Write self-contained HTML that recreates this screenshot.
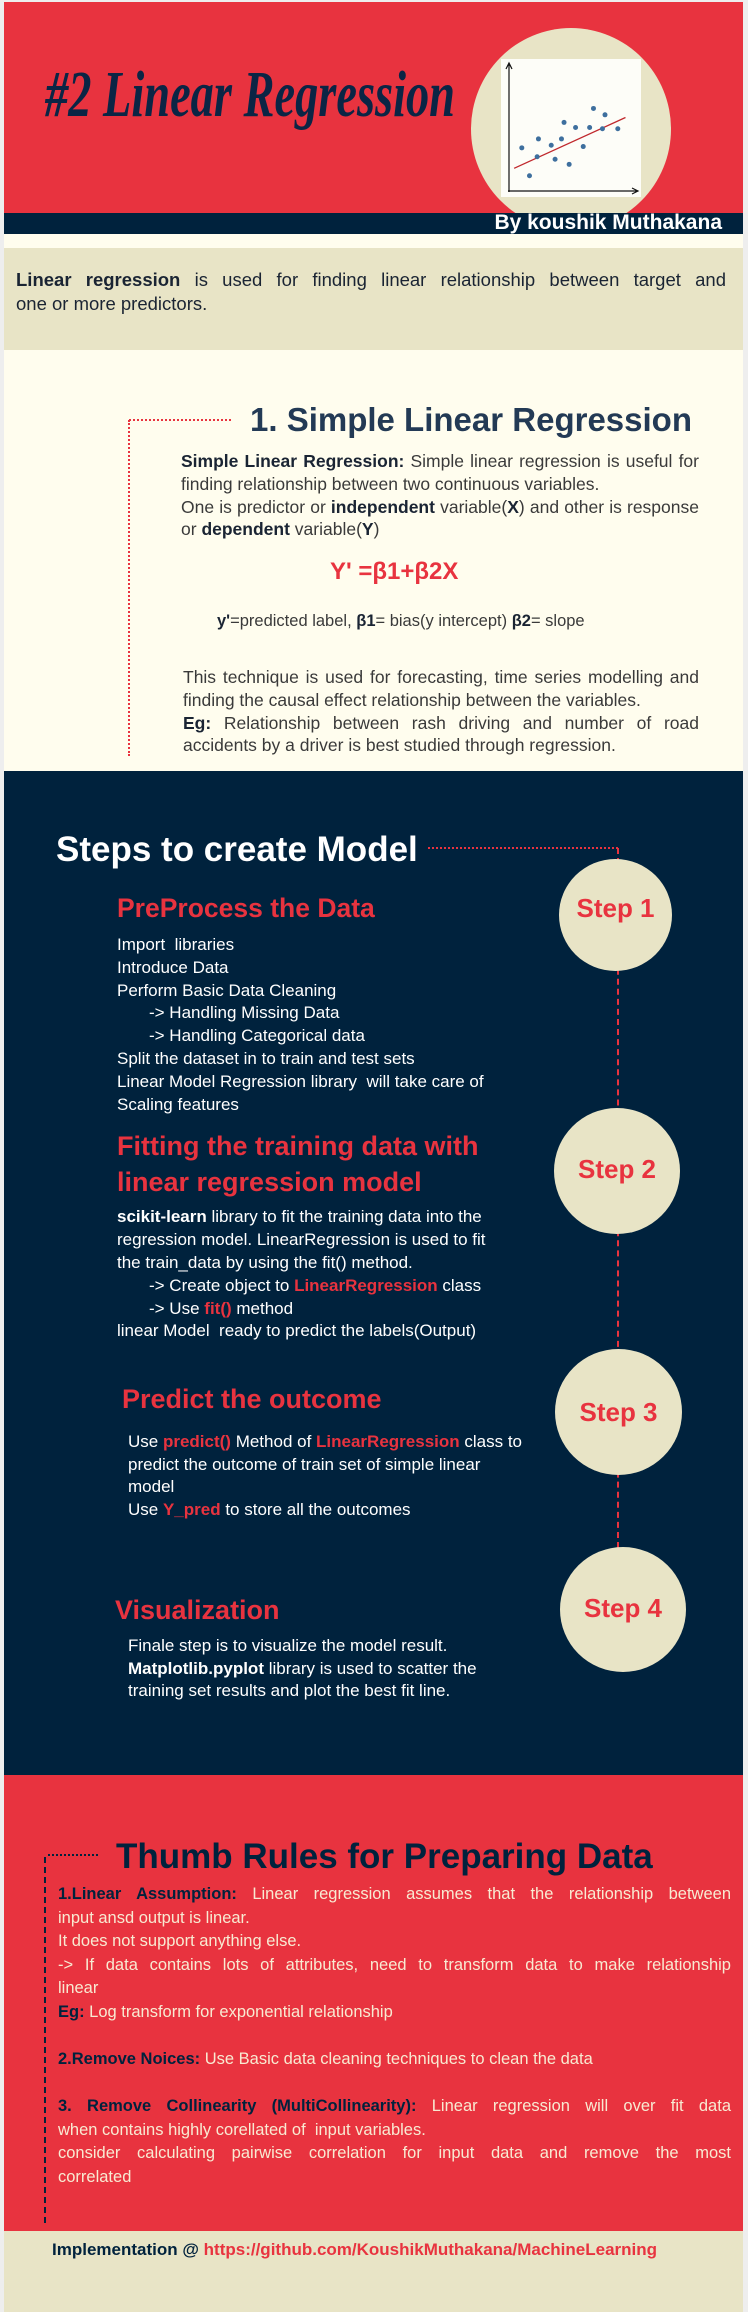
<!DOCTYPE html>
<html><head><meta charset="utf-8">
<style>
*{margin:0;padding:0;box-sizing:border-box}
body{width:748px;height:2312px;position:relative;background:#eeeeee;font-family:"Liberation Sans",sans-serif;overflow:hidden}
.a{position:absolute}
.l{position:absolute;white-space:pre;line-height:1.2}
.j{text-align:justify;text-align-last:justify;white-space:normal}
.red{color:#e8333f}
.navy{color:#00223d}
.dh{border-top:2px dotted #e8333f;height:0}
.dv{border-left:2px dashed #e8333f;width:0}
</style></head>
<body>
<!-- Header -->
<div class="a" style="left:4px;top:2px;width:739px;height:211px;background:#e8333f"></div>
<div class="a" style="left:471px;top:28px;width:200px;height:202px;border-radius:50%;background:#e8e4c6"></div>
<div class="a" style="left:4px;top:213px;width:739px;height:21px;background:#00223d"></div>
<div class="l" style="left:470px;top:210px;width:252px;font-size:21px;font-weight:bold;color:#fff;text-align:right">By koushik Muthakana</div>
<svg class="a" style="left:0;top:40px" width="480" height="110">
<text x="45" y="76" textLength="410" lengthAdjust="spacingAndGlyphs" font-family="Liberation Serif, serif" font-style="italic" font-weight="bold" font-size="66" fill="#0b2545">#2 Linear Regression</text>
</svg>
<svg class="a" id="mini" style="left:0;top:0" width="748" height="240"></svg>

<!-- Intro -->
<div class="a" style="left:4px;top:234px;width:739px;height:14px;background:#fffdee"></div>
<div class="a" style="left:4px;top:248px;width:739px;height:102px;background:#e8e4c6"></div>
<div class="l j navy" style="left:16px;top:269px;width:710px;font-size:18.5px;color:#1a2433"><b>Linear regression</b> is used for finding linear relationship between target and</div>
<div class="l navy" style="left:16px;top:293px;font-size:18.5px;color:#1a2433">one or more predictors.</div>

<!-- Section 1 -->
<div class="a" style="left:4px;top:350px;width:739px;height:421px;background:#fffdee"></div>
<div class="a dh" style="left:129px;top:419px;width:102px"></div>
<div class="a dv" style="left:128px;top:420px;height:336px;border-left-style:dotted"></div>
<div class="l" style="left:250px;top:400px;font-size:33px;font-weight:bold;color:#233a55">1. Simple Linear Regression</div>
<div style="color:#3a3a3a;font-size:17.5px">
<div class="l j" style="left:181px;top:451px;width:518px"><b style="color:#1a2433">Simple Linear Regression:</b> Simple linear regression is useful for</div>
<div class="l" style="left:181px;top:474px">finding relationship between two continuous variables.</div>
<div class="l j" style="left:181px;top:497px;width:518px">One is predictor or <b style="color:#1a2433">independent</b> variable(<b style="color:#1a2433">X</b>) and other is response</div>
<div class="l" style="left:181px;top:519px">or <b style="color:#1a2433">dependent</b> variable(<b style="color:#1a2433">Y</b>)</div>
<div class="l" style="left:330px;top:558px;font-size:24px;font-weight:bold;color:#e8333f">Y' =β1+β2X</div>
<div class="l" style="left:217px;top:612px;font-size:16.5px"><b style="color:#1a2433">y'</b>=predicted label, <b style="color:#1a2433">β1</b>= bias(y intercept) <b style="color:#1a2433">β2</b>= slope</div>
<div class="l j" style="left:183px;top:667px;width:516px">This technique is used for forecasting, time series modelling and</div>
<div class="l" style="left:183px;top:690px">finding the causal effect relationship between the variables.</div>
<div class="l j" style="left:183px;top:713px;width:516px"><b style="color:#1a2433">Eg:</b> Relationship between rash driving and number of road</div>
<div class="l" style="left:183px;top:735px">accidents by a driver is best studied through regression.</div>
</div>

<!-- Steps -->
<div class="a" style="left:4px;top:771px;width:739px;height:1004px;background:#00223d"></div>
<div class="l" style="left:56px;top:829px;font-size:35px;font-weight:bold;color:#fff">Steps to create Model</div>
<div class="a dh" style="left:428px;top:847px;width:190px"></div>
<div class="a dv" style="left:617px;top:848px;height:700px"></div>

<div class="a" style="left:559px;top:859px;width:113px;height:112px;border-radius:50%;background:#e8e4c6"></div>
<div class="l" style="left:559px;top:893px;width:113px;text-align:center;font-size:26px;font-weight:bold;color:#e8333f">Step 1</div>
<div class="a" style="left:554px;top:1108px;width:126px;height:126px;border-radius:50%;background:#e8e4c6"></div>
<div class="l" style="left:554px;top:1154px;width:126px;text-align:center;font-size:26px;font-weight:bold;color:#e8333f">Step 2</div>
<div class="a" style="left:555px;top:1349px;width:127px;height:126px;border-radius:50%;background:#e8e4c6"></div>
<div class="l" style="left:555px;top:1397px;width:127px;text-align:center;font-size:26px;font-weight:bold;color:#e8333f">Step 3</div>
<div class="a" style="left:560px;top:1547px;width:126px;height:125px;border-radius:50%;background:#e8e4c6"></div>
<div class="l" style="left:560px;top:1593px;width:126px;text-align:center;font-size:26px;font-weight:bold;color:#e8333f">Step 4</div>

<div style="color:#fff;font-size:17px">
<div class="l red" style="left:117px;top:893px;font-size:26.5px;font-weight:bold">PreProcess the Data</div>
<div class="l" style="left:117px;top:935px">Import  libraries</div>
<div class="l" style="left:117px;top:958px">Introduce Data</div>
<div class="l" style="left:117px;top:981px">Perform Basic Data Cleaning</div>
<div class="l" style="left:149px;top:1003px">-&gt; Handling Missing Data</div>
<div class="l" style="left:149px;top:1026px">-&gt; Handling Categorical data</div>
<div class="l" style="left:117px;top:1049px">Split the dataset in to train and test sets</div>
<div class="l" style="left:117px;top:1072px">Linear Model Regression library  will take care of</div>
<div class="l" style="left:117px;top:1095px">Scaling features</div>

<div class="l red" style="left:117px;top:1130px;font-size:27px;font-weight:bold">Fitting the training data with</div>
<div class="l red" style="left:117px;top:1166px;font-size:27px;font-weight:bold">linear regression model</div>
<div class="l" style="left:117px;top:1207px"><b>scikit-learn</b> library to fit the training data into the</div>
<div class="l" style="left:117px;top:1230px">regression model. LinearRegression is used to fit</div>
<div class="l" style="left:117px;top:1253px">the train_data by using the fit() method.</div>
<div class="l" style="left:149px;top:1276px">-&gt; Create object to <b class="red">LinearRegression</b> class</div>
<div class="l" style="left:149px;top:1299px">-&gt; Use <b class="red">fit()</b> method</div>
<div class="l" style="left:117px;top:1321px">linear Model  ready to predict the labels(Output)</div>

<div class="l red" style="left:122px;top:1383px;font-size:27px;font-weight:bold">Predict the outcome</div>
<div class="l" style="left:128px;top:1432px">Use <b class="red">predict()</b> Method of <b class="red">LinearRegression</b> class to</div>
<div class="l" style="left:128px;top:1455px">predict the outcome of train set of simple linear</div>
<div class="l" style="left:128px;top:1477px">model</div>
<div class="l" style="left:128px;top:1500px">Use <b class="red">Y_pred</b> to store all the outcomes</div>

<div class="l red" style="left:115px;top:1594px;font-size:27px;font-weight:bold">Visualization</div>
<div class="l" style="left:128px;top:1636px">Finale step is to visualize the model result.</div>
<div class="l" style="left:128px;top:1659px"><b>Matplotlib.pyplot</b> library is used to scatter the</div>
<div class="l" style="left:128px;top:1681px">training set results and plot the best fit line.</div>
</div>

<!-- Thumb rules -->
<div class="a" style="left:4px;top:1775px;width:739px;height:456px;background:#e8333f"></div>
<div class="a" style="left:48px;top:1854px;width:50px;border-top:2px dotted #00223d"></div>
<div class="a" style="left:44px;top:1857px;height:366px;border-left:2px dashed #00223d"></div>
<div class="l navy" style="left:116px;top:1836px;font-size:35px;font-weight:bold">Thumb Rules for Preparing Data</div>
<div style="color:#f8ead2;font-size:16.5px">
<div class="l j" style="left:58px;top:1885px;width:673px"><b class="navy">1.Linear Assumption:</b> Linear regression assumes that the relationship between</div>
<div class="l" style="left:58px;top:1909px">input ansd output is linear.</div>
<div class="l" style="left:58px;top:1932px">It does not support anything else.</div>
<div class="l j" style="left:58px;top:1956px;width:673px">-&gt; If data contains lots of attributes, need to transform data to make relationship</div>
<div class="l" style="left:58px;top:1979px">linear</div>
<div class="l" style="left:58px;top:2003px"><b class="navy">Eg:</b> Log transform for exponential relationship</div>
<div class="l" style="left:58px;top:2050px"><b class="navy">2.Remove Noices:</b> Use Basic data cleaning techniques to clean the data</div>
<div class="l j" style="left:58px;top:2097px;width:673px"><b class="navy">3. Remove Collinearity (MultiCollinearity):</b> Linear regression will over fit data</div>
<div class="l" style="left:58px;top:2121px">when contains highly corellated of  input variables.</div>
<div class="l j" style="left:58px;top:2144px;width:673px">consider calculating pairwise correlation for input data and remove the most</div>
<div class="l" style="left:58px;top:2168px">correlated</div>
</div>

<!-- Footer -->
<div class="a" style="left:4px;top:2231px;width:739px;height:81px;background:#e8e4c6"></div>
<div class="l" style="left:52px;top:2240px;font-size:17px;font-weight:bold;color:#00223d">Implementation @ <span class="red">https://github.com/KoushikMuthakana/MachineLearning</span></div>

<script>
const pointsX = [1.0,1.6,2.2,2.3,3.3,3.6,4.1,4.3,4.7,5.2,5.8,6.3,6.6,7.3,7.5,8.5];
const pointsY = [3.4,1.2,2.7,4.1,3.6,2.5,4.1,5.4,2.1,5.0,3.5,5.0,6.5,4.9,6.0,4.9];
const fitIntercept = 1.6;
const fitSlope = 0.46;
const fitRange = [0.4, 9.1];
(function(){
  const svg = document.getElementById('mini');
  const NS = 'http://www.w3.org/2000/svg';
  const sx = v => 509 + v * 12.8;
  const sy = v => 191 - v * 12.7;
  function mk(tag, attrs){ const e = document.createElementNS(NS, tag); for (const k in attrs) e.setAttribute(k, attrs[k]); svg.appendChild(e); return e; }
  const bg = mk('rect', {x:501, y:59, width:140, height:138, fill:'#fdfdf8'});
  
  
  const ya = mk('path', {d:'M509,192 L509,64 M506,69 L509,63 L512,69', stroke:'#111', 'stroke-width':1.2, fill:'none'});
  
  
  const xa = mk('path', {d:'M508,191 L637,191 M632,188 L638,191 L632,194', stroke:'#111', 'stroke-width':1.2, fill:'none'});
  
  
  const fl = mk('line', {x1:sx(fitRange[0]), y1:sy(fitIntercept + fitSlope*fitRange[0]), x2:sx(fitRange[1]), y2:sy(fitIntercept + fitSlope*fitRange[1]), stroke:'#c0282d', 'stroke-width':1.3});
  
  
  for (let i = 0; i < pointsX.length; i++) {
    const c = mk('circle', {cx:sx(pointsX[i]), cy:sy(pointsY[i]), r:2.5, fill:'#3e6f9e'});
    
    
  }
})();
</script>
</body></html>
